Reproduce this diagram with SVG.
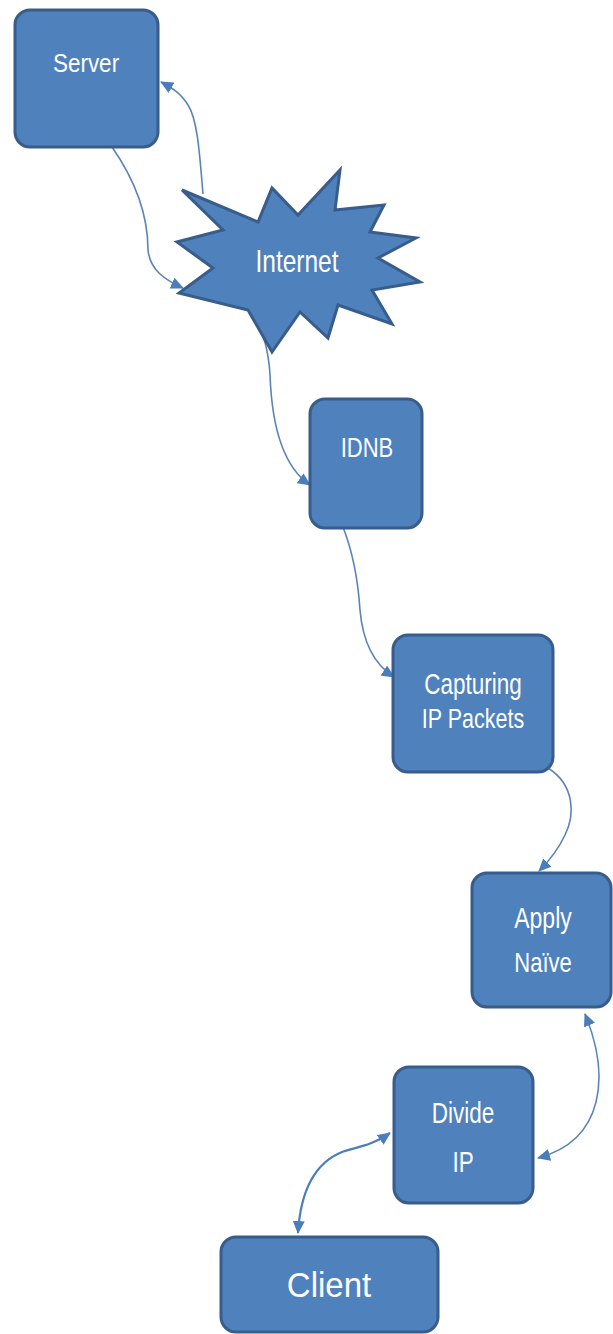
<svg xmlns="http://www.w3.org/2000/svg" width="613" height="1334" viewBox="0 0 613 1334">
<style>
.box{fill:#4F81BD;stroke:#385D8A;stroke-width:3}
.lbl{font-family:"Liberation Sans",Arial,sans-serif;fill:#FFFFFF;text-anchor:middle}
.con{fill:none;stroke:#5A84B8;stroke-width:1.6}
.con2{fill:none;stroke:#4A7EBB;stroke-width:2.2}
</style>
<defs>
<marker id="ah" markerUnits="userSpaceOnUse" markerWidth="14" markerHeight="12" refX="12" refY="6" orient="auto-start-reverse">
<path d="M0,0 L13,6 L0,12 Z" fill="#4A7EBB"/>
</marker>
</defs>
<rect width="613" height="1334" fill="#FFFFFF"/>
<g id="connectors">
<path class="con" d="M 112,147 C 135,180 148,215 148,250 C 150,270 165,280 183,288" marker-end="url(#ah)"/>
<path class="con" d="M 203,194 C 200,160 198,120 188,105 C 180,92 172,88 161,82" marker-end="url(#ah)"/>
<path class="con" d="M 231,298 L 238,299 C 258,315 268,340 270,375 C 272,430 285,468 310,485" marker-end="url(#ah)"/>
<path class="con" d="M 343,527 C 352,550 358,580 360,610 C 363,645 375,665 394,677" marker-end="url(#ah)"/>
<path class="con" d="M 548,768 C 575,785 575,815 565,835 C 558,850 550,860 539,871" marker-end="url(#ah)"/>
<path class="con" d="M 585,1014 C 610,1075 605,1140 538,1158" marker-start="url(#ah)" marker-end="url(#ah)"/>
<path class="con2" d="M 390,1133 C 370,1147 355,1147 342,1152 C 310,1165 300,1200 298,1233" marker-start="url(#ah)" marker-end="url(#ah)"/>
</g>
<g id="server">
<rect class="box" x="15" y="10" width="143" height="137" rx="15"/>
<text class="lbl" font-size="22.5" transform="translate(86,72) scale(1,1.18)">Server</text>
</g>
<g id="internet">
<polygon class="box" stroke-linejoin="miter" points="182,190 258,222 272,188 298,215 340,170 335,210 384,205 370,232 416,238 378,258 420,282 372,290 392,324 338,305 328,338 300,312 272,352 248,310 179,293 213,268 177,242 223,230"/>
<text class="lbl" font-size="24.5" transform="translate(297,272) scale(1,1.28)">Internet</text>
</g>
<g id="idnb">
<rect class="box" x="310" y="399" width="112" height="129" rx="15"/>
<text class="lbl" font-size="22" transform="translate(367,457) scale(1,1.27)">IDNB</text>
</g>
<g id="capturing">
<rect class="box" x="393" y="635" width="160" height="137" rx="15"/>
<text class="lbl" font-size="22.5" transform="translate(473,694) scale(1,1.3)">Capturing</text>
<text class="lbl" font-size="21.5" transform="translate(473,728) scale(1,1.3)">IP Packets</text>
</g>
<g id="apply">
<rect class="box" x="472" y="873" width="139" height="134" rx="15"/>
<text class="lbl" font-size="23" transform="translate(543,928) scale(1,1.25)">Apply</text>
<text class="lbl" font-size="22" transform="translate(543,972) scale(1,1.25)">Naïve</text>
</g>
<g id="divide">
<rect class="box" x="394" y="1067" width="139" height="136" rx="15"/>
<text class="lbl" font-size="22.5" transform="translate(463,1123) scale(1,1.3)">Divide</text>
<text class="lbl" font-size="22.5" transform="translate(463,1172) scale(1,1.3)">IP</text>
</g>
<g id="client">
<rect class="box" x="221" y="1237" width="217" height="95" rx="15"/>
<text class="lbl" font-size="33" transform="translate(329,1297) scale(1,1.06)">Client</text>
</g>
</svg>
